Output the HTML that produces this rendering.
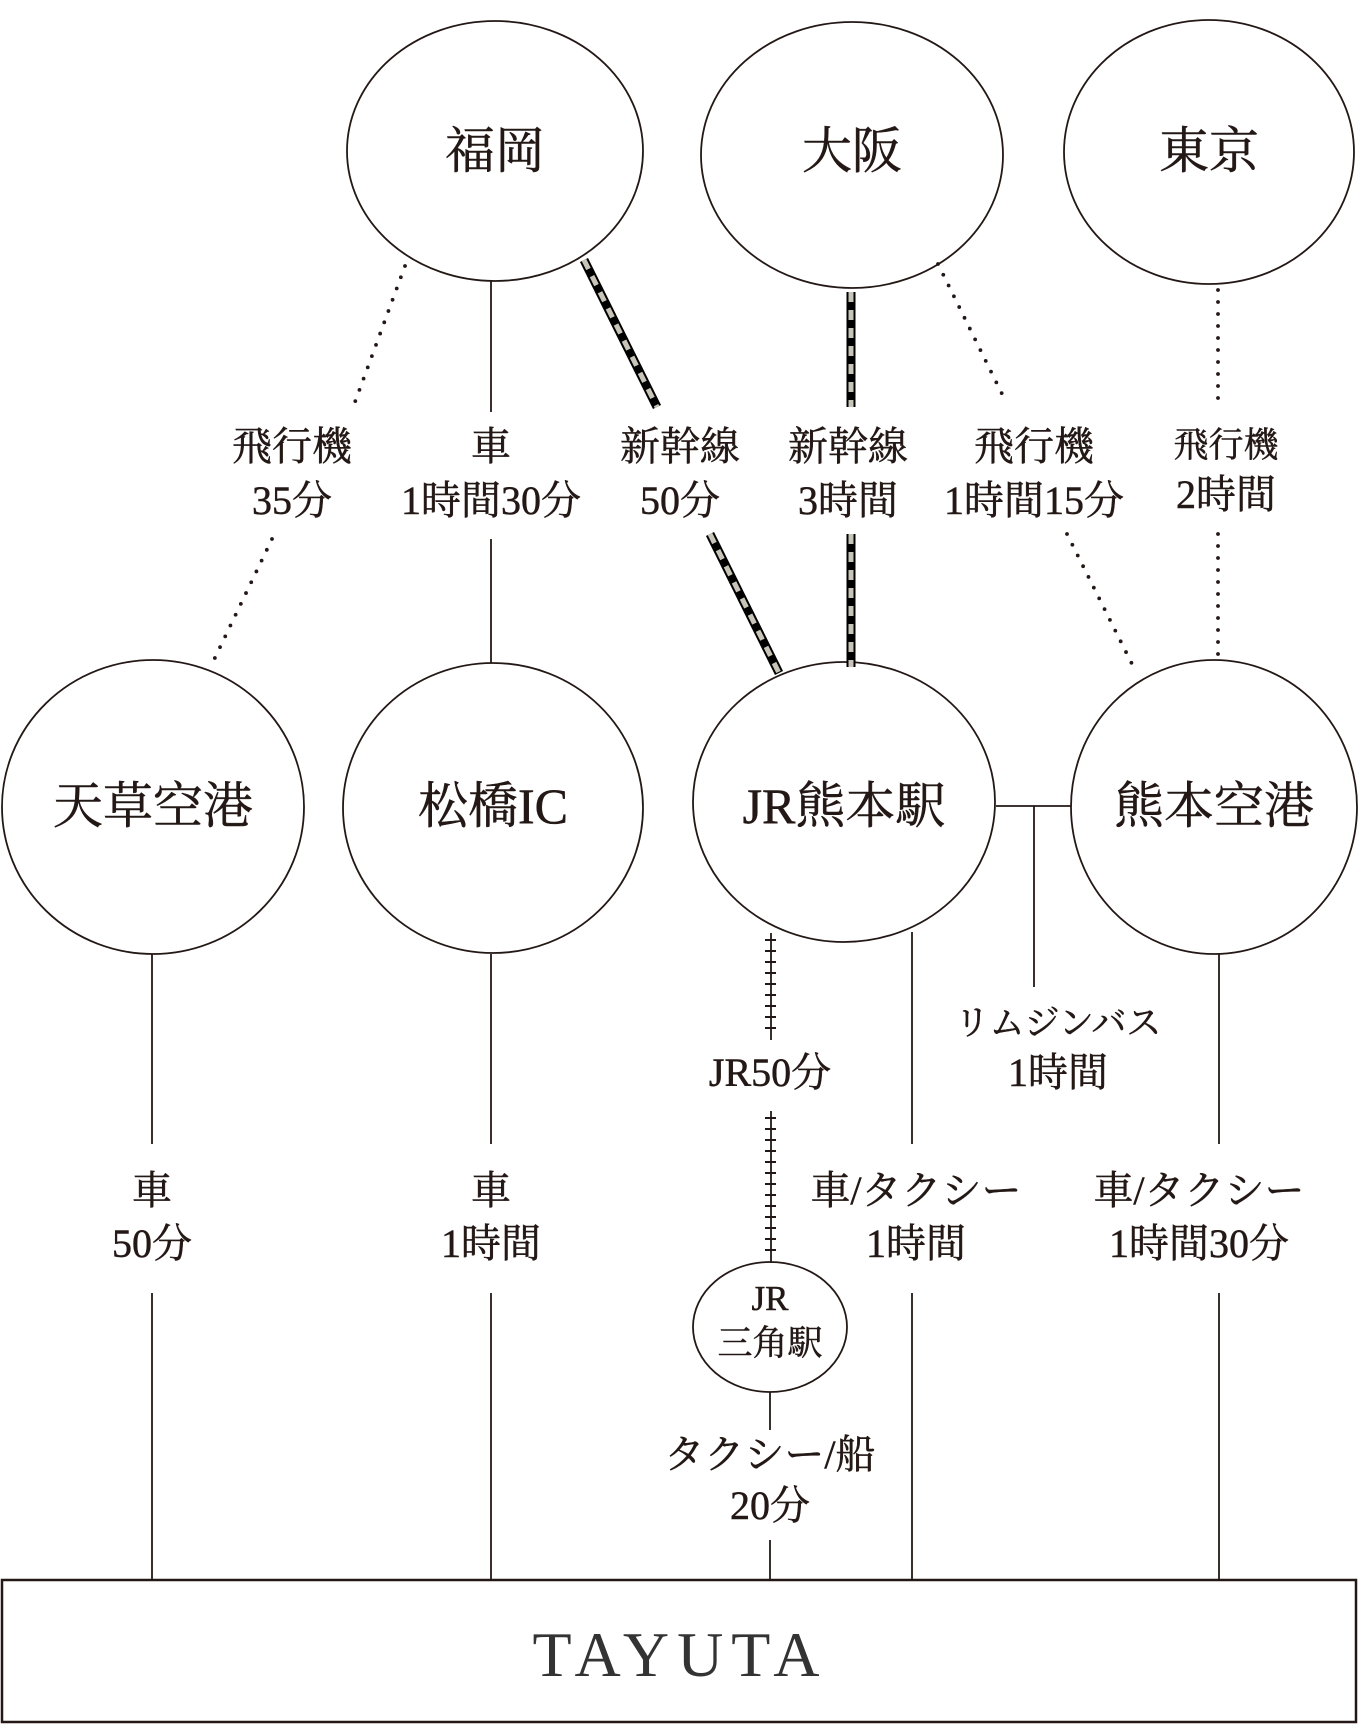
<!DOCTYPE html>
<html><head><meta charset="utf-8"><style>
html,body{margin:0;padding:0;background:#fff;}
svg{display:block;}
text{font-family:"Liberation Serif","Noto Serif CJK SC","Noto Sans CJK JP",serif;fill:#231815;text-anchor:middle;stroke:#231815;stroke-width:0.5px;}
.n{font-size:50px;}
.l{font-size:40px;}
.s{font-size:35px;}
</style></head><body>
<svg width="1359" height="1725" viewBox="0 0 1359 1725" xmlns="http://www.w3.org/2000/svg">
<g fill="none" stroke="#231815" stroke-width="1.8">
<ellipse cx="495" cy="151" rx="148" ry="130"/>
<ellipse cx="852" cy="155" rx="151" ry="133"/>
<ellipse cx="1209" cy="152" rx="145" ry="132"/>
<ellipse cx="153" cy="807" rx="151" ry="147"/>
<ellipse cx="493" cy="808" rx="150" ry="145"/>
<ellipse cx="844" cy="802" rx="151" ry="140"/>
<ellipse cx="1214" cy="807" rx="143" ry="147"/>
<ellipse cx="770" cy="1327" rx="77" ry="65"/>
<rect x="2" y="1580" width="1354" height="142" stroke-width="2.5"/>
<line x1="491" y1="280" x2="491" y2="412"/>
<line x1="491" y1="539" x2="491" y2="663"/>
<line x1="996" y1="806" x2="1071" y2="806"/>
<line x1="1034" y1="806" x2="1034" y2="987"/>
<line x1="152" y1="954" x2="152" y2="1144"/>
<line x1="152" y1="1293" x2="152" y2="1581"/>
<line x1="491" y1="954" x2="491" y2="1144"/>
<line x1="491" y1="1293" x2="491" y2="1581"/>
<line x1="912" y1="932" x2="912" y2="1144"/>
<line x1="912" y1="1293" x2="912" y2="1581"/>
<line x1="1219" y1="954" x2="1219" y2="1144"/>
<line x1="1219" y1="1293" x2="1219" y2="1581"/>
<line x1="770" y1="1392" x2="770" y2="1430"/>
<line x1="770" y1="1540" x2="770" y2="1581"/>
<line x1="771" y1="933" x2="771" y2="1040"/>
<line x1="771" y1="1111" x2="771" y2="1263"/>
</g>
<g stroke="#231815" stroke-width="2">
<path d="M765 940h11M765 951h11M765 962h11M765 973h11M765 984h11M765 995h11M765 1006h11M765 1017h11M765 1028h11"/>
<path d="M765 1118h11M765 1129h11M765 1140h11M765 1151h11M765 1162h11M765 1173h11M765 1184h11M765 1195h11M765 1206h11M765 1217h11M765 1228h11M765 1239h11M765 1250h11"/>
</g>
<g stroke="#231815" stroke-width="3.8" stroke-linecap="round" stroke-dasharray="0 12">
<line x1="405" y1="266" x2="355" y2="402"/>
<line x1="272" y1="539" x2="211" y2="666"/>
<line x1="938" y1="264" x2="1006" y2="402"/>
<line x1="1067" y1="534" x2="1133" y2="666"/>
<line x1="1218" y1="290" x2="1218" y2="407"/>
<line x1="1218" y1="534" x2="1218" y2="660"/>
</g>
<g stroke="#000" stroke-width="9">
<line x1="584" y1="260" x2="657" y2="407"/>
<line x1="710" y1="534" x2="779" y2="673"/>
<line x1="851" y1="292" x2="851" y2="407"/>
<line x1="851" y1="534" x2="851" y2="667"/>
</g>
<g stroke="#c8c5b8" stroke-width="5" stroke-dasharray="10 8">
<line x1="584" y1="260" x2="657" y2="407"/>
<line x1="710" y1="534" x2="779" y2="673"/>
<line x1="851" y1="292" x2="851" y2="407"/>
<line x1="851" y1="534" x2="851" y2="667"/>
</g>
<text class="n" x="495" y="168">福岡</text>
<text class="n" x="852" y="168">大阪</text>
<text class="n" x="1209" y="168">東京</text>
<text class="n" x="153" y="823">天草空港</text>
<text class="n" x="493" y="823">松橋IC</text>
<text class="n" x="844" y="823">JR熊本駅</text>
<text class="n" x="1214" y="823">熊本空港</text>
<text class="s" x="770" y="1310">JR</text>
<text class="s" x="770" y="1355">三角駅</text>
<text class="l" x="292" y="460">飛行機</text><text class="l" x="292" y="514">35分</text>
<text class="l" x="491" y="460">車</text><text class="l" x="491" y="514">1時間30分</text>
<text class="l" x="680" y="460">新幹線</text><text class="l" x="680" y="514">50分</text>
<text class="l" x="848" y="460">新幹線</text><text class="l" x="848" y="514">3時間</text>
<text class="l" x="1034" y="460">飛行機</text><text class="l" x="1034" y="514">1時間15分</text>
<text class="s" x="1226" y="457">飛行機</text><text class="l" x="1226" y="508">2時間</text>
<text class="l" x="152" y="1204">車</text><text class="l" x="152" y="1257">50分</text>
<text class="l" x="491" y="1204">車</text><text class="l" x="491" y="1257">1時間</text>
<text class="l" x="770" y="1086">JR50分</text>
<text class="s" x="1058" y="1035">リムジンバス</text><text class="l" x="1058" y="1086">1時間</text>
<text class="l" x="916" y="1204">車/タクシー</text><text class="l" x="916" y="1257">1時間</text>
<text class="l" x="1199" y="1204">車/タクシー</text><text class="l" x="1199" y="1257">1時間30分</text>
<text class="l" x="770" y="1468">タクシー/船</text><text class="l" x="770" y="1519">20分</text>
<text x="680" y="1676" style="font-size:64px;letter-spacing:8px;fill:#333;stroke:none">TAYUTA</text>
</svg>
</body></html>
